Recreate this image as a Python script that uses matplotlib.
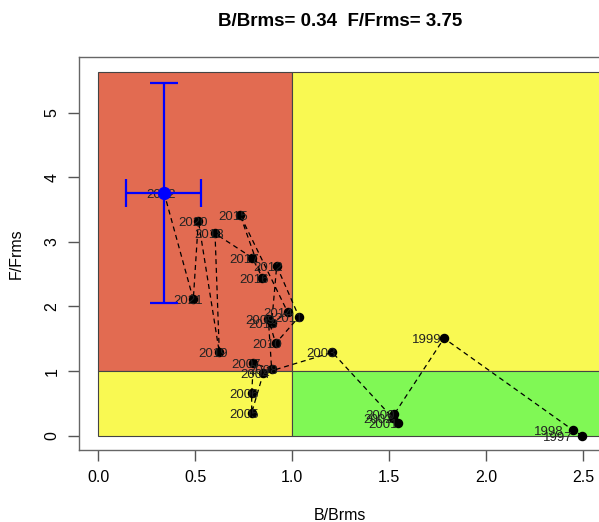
import numpy as np
import matplotlib

matplotlib.use("Agg")
import matplotlib.pyplot as plt
from matplotlib.patches import Rectangle

plt.rcParams["font.family"] = ["Liberation Sans", "DejaVu Sans"]

# Kobe trajectory, B/Bmsy vs F/Fmsy by year
years = list(range(1997, 2023))
b_ratio = [2.496, 2.447, 1.783, 1.527, 1.547, 1.520, 1.207, 0.851, 0.791, 0.791,
           0.800, 0.894, 0.877, 0.915, 1.035, 0.920, 0.894, 0.977, 0.731, 0.846,
           0.794, 0.602, 0.624, 0.516, 0.490, 0.340]
f_ratio = [0.000, 0.088, 1.508, 0.336, 0.200, 0.270, 1.290, 0.966, 0.356, 0.656,
           1.120, 1.030, 1.806, 1.430, 1.840, 2.627, 1.740, 1.910, 3.420, 2.446,
           2.755, 3.130, 1.290, 3.330, 2.110, 3.750]

# final-year estimate and its intervals
b_last, f_last = 0.34, 3.75
b_ci = [0.143, 0.530]
f_ci = [2.05, 5.46]

f_top = 5.63
red = "#E26B51"
yellow = "#F9F952"
green = "#80F855"

fig = plt.figure(figsize=(5.99, 5.22), dpi=100)
ax = fig.add_axes([79 / 599, 1 - 450.3 / 522, 522 / 599, 393.3 / 522])

edge = "#444444"
ax.add_patch(Rectangle((0, 1), 1, f_top - 1, facecolor=red, edgecolor=edge, lw=0.8, zorder=1))
ax.add_patch(Rectangle((0, 0), 1, 1, facecolor=yellow, edgecolor=edge, lw=0.8, zorder=1))
ax.add_patch(Rectangle((1, 1), 3, f_top - 1, facecolor=yellow, edgecolor=edge, lw=0.8, zorder=1))
ax.add_patch(Rectangle((1, 0), 3, 1, facecolor=green, edgecolor=edge, lw=0.8, zorder=1))

ax.plot(b_ratio, f_ratio, color="black", lw=0.9, ls=(0, (4, 3)), zorder=2)
ax.scatter(b_ratio, f_ratio, s=34, color="black", zorder=3)
for yr, b, f in zip(years, b_ratio, f_ratio):
    ax.text(b * 0.95, f - 0.03, str(yr), ha="center", va="center",
            fontsize=9.5, color="#222222", zorder=4)

# uncertainty on the last year
ax.errorbar([b_last], [f_last],
            xerr=[[b_last - b_ci[0]], [b_ci[1] - b_last]],
            yerr=[[f_last - f_ci[0]], [f_ci[1] - f_last]],
            fmt="o", color="blue", ms=8.5, lw=1.6, capsize=10, capthick=1.6, zorder=5)

ax.set_xlim(-0.0995, 2.5925)
ax.set_ylim(-0.226, 5.862)
ax.set_xticks([0.0, 0.5, 1.0, 1.5, 2.0, 2.5])
ax.set_xticklabels(["0.0", "0.5", "1.0", "1.5", "2.0", "2.5"])
ax.set_yticks([0, 1, 2, 3, 4, 5])
ax.set_yticklabels(["0", "1", "2", "3", "4", "5"], rotation=90, va="center")
ax.tick_params(length=8, width=1, color="#555555", labelsize=11.5, pad=6)
for s in ax.spines.values():
    s.set_color("#666666")
    s.set_linewidth(1)

ax.set_xlabel("B/Brms", fontsize=11.5, labelpad=17)
ax.set_ylabel("F/Frms", fontsize=11.5, labelpad=15)
ax.set_title(f"B/Brms= {b_last:.2f}  F/Frms= {f_last:.2f}",
             fontsize=13.5, fontweight="bold", pad=22)

fig.savefig("out.png", dpi=100)
